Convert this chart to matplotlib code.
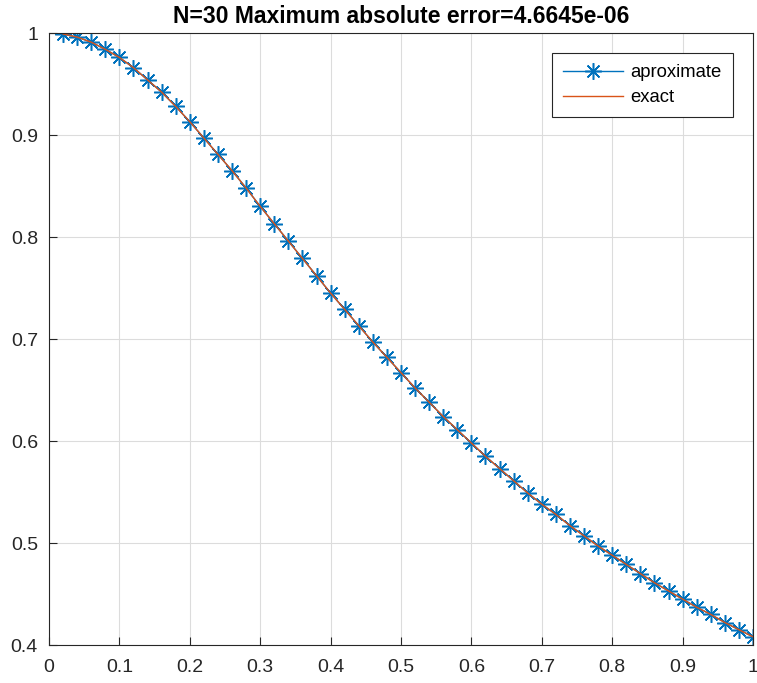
import matplotlib
matplotlib.use("Agg")
import matplotlib.pyplot as plt

x_vals = [0.02, 0.04, 0.06, 0.08, 0.10, 0.12, 0.14, 0.16, 0.18, 0.20,
          0.22, 0.24, 0.26, 0.28, 0.30, 0.32, 0.34, 0.36, 0.38, 0.40,
          0.42, 0.44, 0.46, 0.48, 0.50, 0.52, 0.54, 0.56, 0.58, 0.60,
          0.62, 0.64, 0.66, 0.68, 0.70, 0.72, 0.74, 0.76, 0.78, 0.80,
          0.82, 0.84, 0.86, 0.88, 0.90, 0.92, 0.94, 0.96, 0.98, 1.00]
approx_vals = [0.999, 0.996, 0.991, 0.984, 0.976, 0.966, 0.954, 0.942, 0.928, 0.913,
               0.897, 0.881, 0.865, 0.848, 0.830, 0.813, 0.796, 0.779, 0.762, 0.745,
               0.729, 0.713, 0.697, 0.682, 0.667, 0.652, 0.638, 0.624, 0.611, 0.598,
               0.585, 0.573, 0.561, 0.549, 0.538, 0.528, 0.517, 0.507, 0.497, 0.488,
               0.479, 0.470, 0.461, 0.453, 0.445, 0.437, 0.430, 0.422, 0.415, 0.408]
exact_vals = list(approx_vals)

x_ticks = [0, 0.1, 0.2, 0.3, 0.4, 0.5, 0.6, 0.7, 0.8, 0.9, 1]
x_tick_labels = ["0", "0.1", "0.2", "0.3", "0.4", "0.5", "0.6", "0.7", "0.8", "0.9", "1"]
y_ticks = [0.4, 0.5, 0.6, 0.7, 0.8, 0.9, 1]
y_tick_labels = ["0.4", "0.5", "0.6", "0.7", "0.8", "0.9", "1"]
title = "N=30 Maximum absolute error=4.6645e-06"

plt.rcParams['font.family'] = ['Liberation Sans', 'DejaVu Sans']

fig = plt.figure(figsize=(7.57, 6.83), dpi=100)
W, H = 757, 683
ax = fig.add_axes([49 / W, 1 - 645 / H, (753 - 49) / W, (645 - 33) / H])

ax.plot(x_vals, approx_vals, color=(0, 0.447, 0.741), lw=1.0,
        marker=(8, 2, 0), markersize=12, markeredgewidth=1.1, label='aproximate')
ax.plot(x_vals, exact_vals, color=(0.85, 0.325, 0.098), lw=1.0, label='exact')

ax.set_xlim(0, 1)
ax.set_ylim(0.4, 1)
ax.set_xticks(x_ticks)
ax.set_xticklabels(x_tick_labels)
ax.set_yticks(y_ticks)
ax.set_yticklabels(y_tick_labels)
ax.tick_params(direction='in', labelsize=14, length=6, width=0.8, color='#262626',
               labelcolor='#262626', top=False, right=False)
ax.tick_params(axis='x', pad=10)
ax.tick_params(axis='y', pad=8)
ax.grid(True, color='#dcdcdc', lw=0.8)
ax.set_axisbelow(True)
for s in ax.spines.values():
    s.set_color('#262626')
    s.set_linewidth(0.8)

ax.set_title(title, fontsize=16.5, fontweight='bold', pad=7)

leg = ax.legend(loc='upper right', bbox_to_anchor=(733 / W, 1 - 53 / H),
                bbox_transform=fig.transFigure, fontsize=13.3, fancybox=False,
                framealpha=1, edgecolor='#262626', borderpad=0.6,
                handlelength=3.25, handletextpad=0.4, labelspacing=0.45,
                borderaxespad=0)
leg.get_frame().set_linewidth(0.8)

fig.savefig("out.png", dpi=100)
